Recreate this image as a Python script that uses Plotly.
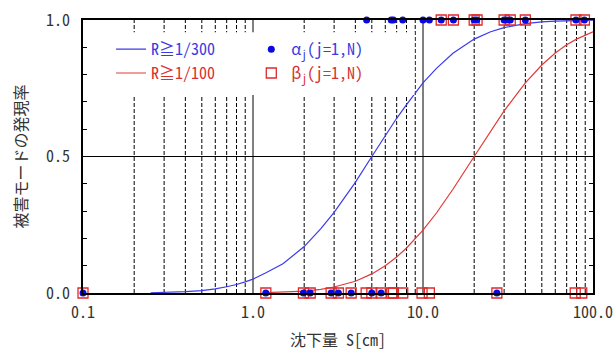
import plotly.graph_objects as go

# ---- data ----
curve_x = [0.25, 0.3, 0.4, 0.5, 0.6, 0.7, 0.8, 0.9, 1.0, 1.2, 1.5, 2, 2.5, 3, 4, 5, 6, 7, 8,
           10, 12, 15, 20, 25, 30, 40, 50, 60, 80, 100]
blue_curve = [0.001, 0.002, 0.005, 0.009, 0.015, 0.023, 0.031, 0.041, 0.051, 0.075, 0.107, 0.17,
              0.235, 0.295, 0.405, 0.5, 0.576, 0.64, 0.69, 0.77, 0.823, 0.878, 0.93, 0.957,
              0.972, 0.987, 0.993, 0.996, 0.998, 0.999]

red_x = [1.2, 1.5, 2, 2.5, 3, 4, 5, 6, 7, 8, 10, 12, 15, 20, 25, 30, 40, 50, 60, 70, 80, 100]
red_curve = [0.0014, 0.0029, 0.0072, 0.0135, 0.022, 0.043, 0.07, 0.10, 0.132, 0.165, 0.23,
             0.293, 0.38, 0.5, 0.594, 0.667, 0.77, 0.835, 0.879, 0.909, 0.93, 0.957]

alpha_top = [4.66, 6.5, 6.7, 7.6, 10.0, 10.9, 12.8, 15.1, 20.0, 20.7, 30.0, 31.1, 32.6, 40.0, 79.4, 89.0]
alpha_bottom = [0.1, 1.19, 1.98, 2.17, 2.88, 3.18, 3.78, 5.0, 5.67, 27.2]
beta_top = [12.8, 15.1, 20.0, 20.8, 30.0, 32.6, 40.0, 79.4, 89.0]
beta_bottom = [0.1, 1.19, 1.98, 2.17, 2.88, 3.18, 3.78, 4.63, 5.0, 5.67, 6.55, 6.7, 7.6, 9.87,
               10.9, 27.2, 78.6, 85.9]

x_tickvals = [0.1, 1, 10, 100]
x_ticktext = ["0.1", "1.0", "10.0", "100.0"]
y_tickvals = [0.0, 0.5, 1.0]
y_ticktext = ["0.0", "0.5", "1.0"]
minor_grid = [0.2, 0.3, 0.4, 0.5, 0.6, 0.7, 0.8, 0.9, 2, 3, 4, 5, 6, 7, 8, 9,
              20, 30, 40, 50, 60, 70, 80, 90]
major_grid = [1, 10]

FONT = "Noto Sans Mono CJK JP, Noto Sans CJK JP, DejaVu Sans Mono, sans-serif"
BLUE_LINE = "#3a3aee"
RED_LINE = "#e03a3a"
BLUE_PT = "#0a0ae0"
RED_PT = "#e02a2a"

fig = go.Figure()

# dashed minor vertical grid
gx, gy = [], []
for v in minor_grid:
    gx += [v, v, None]
    gy += [0, 1, None]
fig.add_trace(go.Scatter(x=gx, y=gy, mode="lines", showlegend=False, hoverinfo="skip",
                         line=dict(color="black", width=1, dash="4px,2px")))
# solid grid
sx, sy = [], []
for v in major_grid:
    sx += [v, v, None]
    sy += [0, 1, None]
fig.add_trace(go.Scatter(x=sx, y=sy, mode="lines", showlegend=False, hoverinfo="skip",
                         line=dict(color="black", width=1)))

# white background behind the legend area (drawn below the curves)
fig.add_shape(type="rect", xref="paper", yref="paper", x0=0.015, x1=0.65, y0=0.725, y1=0.955,
              fillcolor="white", line=dict(width=0), layer="above")

fig.add_trace(go.Scatter(x=curve_x, y=blue_curve, mode="lines", name="<span style='color:#3a3ae0'>R≧1/300</span>",
                         line=dict(color=BLUE_LINE, width=1.2), legend="legend", legendgroup="a"))
fig.add_trace(go.Scatter(x=red_x, y=red_curve, mode="lines", name="<span style='color:#d83030'>R≧1/100</span>",
                         line=dict(color=RED_LINE, width=1.2), legend="legend", legendgroup="b"))

fig.add_trace(go.Scatter(x=beta_top + beta_bottom, y=[1] * len(beta_top) + [0] * len(beta_bottom),
                         mode="markers", name="<span style='color:#d83030'>β<sub>j</sub>(j=1,N)</span>",
                         marker=dict(symbol="square-open", size=10, color=RED_PT, line=dict(width=1.3)),
                         cliponaxis=False, legend="legend2", legendgroup="d", legendrank=2))
fig.add_trace(go.Scatter(x=alpha_top + alpha_bottom, y=[1] * len(alpha_top) + [0] * len(alpha_bottom),
                         mode="markers", name="<span style='color:#3a3ae0'>α<sub>j</sub>(j=1,N)</span>",
                         marker=dict(symbol="circle", size=7, color=BLUE_PT),
                         cliponaxis=False, legend="legend2", legendgroup="c", legendrank=1))

legend_common = dict(font=dict(family=FONT, size=16), bgcolor="rgba(0,0,0,0)",
                     borderwidth=0, tracegroupgap=8, xanchor="left", yanchor="top",
                     traceorder="normal")
fig.update_layout(
    width=614, height=351,
    margin=dict(l=83, r=21, t=20, b=58, autoexpand=False),
    paper_bgcolor="white", plot_bgcolor="white",
    font=dict(family=FONT, size=16, color="#333333"),
    legend=dict(x=0.055, y=0.955, **legend_common),
    legend2=dict(x=0.33, y=0.955, **legend_common),
    xaxis=dict(type="log", range=[-1, 2], tickvals=x_tickvals, ticktext=x_ticktext,
               showgrid=False, zeroline=False, showline=True, linecolor="black", linewidth=1.5,
               mirror=True, ticks="", automargin=False, ticklabelstandoff=4,
               title=dict(text="沈下量 S[cm]", standoff=16, font=dict(size=16, color="#333333"))),
    yaxis=dict(range=[0, 1], tickvals=y_tickvals, ticktext=y_ticktext, showgrid=True,
               gridcolor="black", gridwidth=1, zeroline=False, showline=True, linecolor="black",
               linewidth=1.5, mirror="ticks", ticks="inside", ticklen=4, tickcolor="black",
               ticklabelstandoff=8, automargin=False,
               minor=dict(dtick=0.1, ticks="inside", ticklen=4, tickcolor="black", showgrid=False),
               title=dict(text="被害モードの発現率", standoff=14, font=dict(size=16, color="#333333"))),
    showlegend=True,
)

fig.write_html("out.html")
